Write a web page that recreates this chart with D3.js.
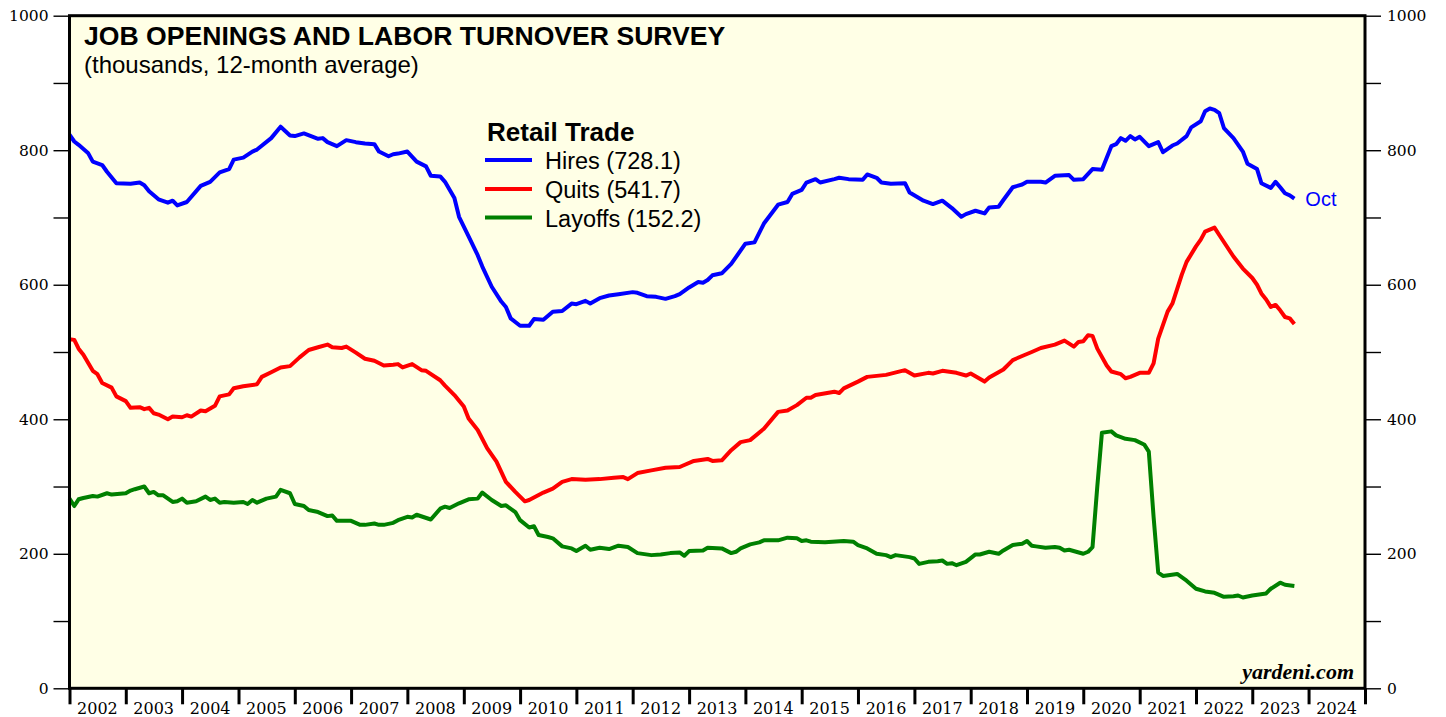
<!DOCTYPE html>
<html><head><meta charset="utf-8">
<script src="https://cdn.jsdelivr.net/npm/d3@7"></script>
<style>
html,body{margin:0;padding:0;background:#fff;}
svg{display:block;}
</style></head>
<body>
<svg id="chart" width="1446" height="717"></svg>
<script>
const title = "JOB OPENINGS AND LABOR TURNOVER SURVEY";
const subtitle = "(thousands, 12-month average)";
const legendTitle = "Retail Trade";
const seriesNames = ["Hires (728.1)", "Quits (541.7)", "Layoffs (152.2)"];
const seriesColors = ["#0000ff", "#ff0000", "#008000"];
const years = d3.range(2002, 2025);
const yTicks = d3.range(0, 1001, 100);
const yLabels = d3.range(0, 1001, 200);

const hires = [
["2002-01",823],["2002-02",813],["2002-03",808],["2002-05",796],["2002-06",783],["2002-08",778],["2002-09",768],["2002-11",751],
["2003-02",750],["2003-04",752],["2003-05",748],["2003-06",739],["2003-08",727],["2003-10",722],["2003-11",725],["2003-12",718],
["2004-02",723],["2004-05",747],["2004-07",753],["2004-09",767],["2004-11",772],["2004-12",786],
["2005-02",789],["2005-04",798],["2005-05",801],["2005-08",818],["2005-10",835],["2005-12",822],
["2006-01",821],["2006-03",825],["2006-06",817],["2006-07",818],["2006-08",812],["2006-10",806],["2006-12",815],
["2007-02",812],["2007-04",810],["2007-06",809],["2007-07",798],["2007-09",791],["2007-10",794],["2007-11",795],
["2008-01",798],["2008-03",783],["2008-05",776],["2008-06",762],["2008-08",761],["2008-09",753],["2008-11",729],["2008-12",701],
["2009-02",672],["2009-04",644],["2009-05",627],["2009-07",597],["2009-09",575],["2009-10",567],["2009-11",550],
["2010-01",539],["2010-03",539],["2010-04",549],["2010-06",548],["2010-08",560],["2010-10",561],["2010-12",572],
["2011-01",571],["2011-03",576],["2011-04",572],["2011-06",580],["2011-08",584],["2011-10",586],
["2012-01",589],["2012-02",588],["2012-04",583],["2012-06",582],["2012-08",579],["2012-10",583],["2012-11",586],
["2013-01",596],["2013-03",604],["2013-04",603],["2013-05",607],["2013-06",614],["2013-08",617],["2013-10",631],
["2014-01",661],["2014-03",663],["2014-05",691],["2014-08",719],["2014-10",723],["2014-11",735],
["2015-01",741],["2015-02",752],["2015-04",757],["2015-05",752],["2015-08",757],["2015-09",759],["2015-11",757],
["2016-02",756],["2016-03",764],["2016-05",759],["2016-06",752],["2016-08",750],["2016-11",751],["2016-12",737],
["2017-03",725],["2017-05",720],["2017-07",725],["2017-09",714],["2017-11",701],["2017-12",705],
["2018-02",710],["2018-04",706],["2018-05",715],["2018-07",716],["2018-08",726],["2018-10",745],["2018-12",749],
["2019-01",753],["2019-04",753],["2019-05",752],["2019-07",762],["2019-10",763],["2019-11",756],
["2020-01",757],["2020-03",772],["2020-05",771],["2020-07",806],["2020-08",809],["2020-09",818],["2020-10",814],["2020-11",821],["2020-12",816],
["2021-01",820],["2021-03",806],["2021-05",812],["2021-06",797],["2021-08",807],["2021-09",810],["2021-11",821],["2021-12",834],
["2022-02",843],["2022-03",858],["2022-04",862],["2022-05",860],["2022-06",855],["2022-07",833],["2022-09",818],["2022-11",798],["2022-12",780],
["2023-02",772],["2023-03",751],["2023-05",744],["2023-06",753],["2023-07",745],["2023-08",736],["2023-09",733],["2023-10",728.1]
];

const quits = [
["2002-01",519],["2002-02",518],["2002-03",505],["2002-04",496],["2002-06",472],["2002-07",467],["2002-08",454],["2002-10",447],["2002-11",434],
["2003-01",427],["2003-02",417],["2003-04",418],["2003-05",415],["2003-06",417],["2003-07",409],["2003-08",407],["2003-10",400],["2003-11",404],
["2004-01",403],["2004-02",406],["2004-03",404],["2004-05",413],["2004-06",412],["2004-08",420],["2004-09",434],["2004-11",437],["2004-12",446],
["2005-02",449],["2005-05",452],["2005-06",463],["2005-08",470],["2005-10",477],["2005-12",479],
["2006-02",492],["2006-04",503],["2006-06",507],["2006-08",511],["2006-09",507],["2006-11",506],["2006-12",508],
["2007-02",499],["2007-04",490],["2007-06",487],["2007-08",480],["2007-10",481],["2007-11",482],["2007-12",477],
["2008-02",482],["2008-04",473],["2008-05",472],["2008-08",458],["2008-09",450],["2008-11",436],
["2009-01",419],["2009-02",401],["2009-04",384],["2009-06",357],["2009-08",337],["2009-10",307],["2009-12",292],
["2010-02",278],["2010-03",280],["2010-06",291],["2010-08",297],["2010-10",307],["2010-12",311],
["2011-03",310],["2011-06",311],["2011-09",313],["2011-11",314],["2011-12",311],
["2012-02",320],["2012-05",324],["2012-08",328],["2012-11",329],["2012-12",332],
["2013-02",338],["2013-05",341],["2013-06",338],["2013-08",339],["2013-10",354],["2013-12",366],
["2014-02",369],["2014-05",386],["2014-08",411],["2014-10",413],["2014-12",421],
["2015-02",432],["2015-03",432],["2015-04",436],["2015-08",441],["2015-09",439],["2015-10",446],
["2016-01",456],["2016-03",463],["2016-07",466],["2016-11",473],
["2017-01",465],["2017-04",469],["2017-05",468],["2017-07",472],["2017-10",469],["2017-12",465],
["2018-01",468],["2018-04",456],["2018-05",462],["2018-08",474],["2018-10",488],["2018-12",494],
["2019-02",500],["2019-04",506],["2019-07",511],["2019-09",517],["2019-11",508],["2019-12",515],
["2020-01",516],["2020-02",525],["2020-03",524],["2020-04",505],["2020-06",480],["2020-07",471],["2020-09",467],["2020-10",461],["2020-11",463],
["2021-01",469],["2021-03",469],["2021-04",483],["2021-05",520],["2021-07",560],["2021-08",572],["2021-10",615],["2021-11",634],
["2022-01",657],["2022-02",667],["2022-03",679],["2022-05",685],["2022-06",674],["2022-09",642],["2022-11",624],
["2023-01",610],["2023-02",600],["2023-03",587],["2023-04",578],["2023-05",567],["2023-06",570],["2023-07",562],["2023-08",552],["2023-09",550],["2023-10",541.7]
];

const layoffs = [
["2002-01",282],["2002-02",271],["2002-03",281],["2002-04",283],["2002-06",286],["2002-07",285],["2002-09",290],["2002-10",288],
["2003-01",290],["2003-02",294],["2003-03",296],["2003-05",300],["2003-06",290],["2003-07",292],["2003-08",287],["2003-09",287],["2003-11",277],["2003-12",278],
["2004-01",282],["2004-02",276],["2004-04",278],["2004-06",285],["2004-07",280],["2004-08",282],["2004-09",276],["2004-10",277],["2004-12",276],
["2005-02",277],["2005-03",274],["2005-04",280],["2005-05",276],["2005-07",282],["2005-09",285],["2005-10",295],["2005-12",290],
["2006-01",274],["2006-03",271],["2006-04",265],["2006-06",262],["2006-08",256],["2006-09",257],["2006-10",249],
["2007-01",249],["2007-03",243],["2007-04",243],["2007-06",245],["2007-07",243],["2007-08",243],["2007-10",246],["2007-11",250],
["2008-01",255],["2008-02",254],["2008-03",258],["2008-06",251],["2008-08",267],["2008-09",270],["2008-10",268],["2008-12",275],
["2009-02",281],["2009-04",282],["2009-05",291],["2009-07",280],["2009-09",271],["2009-10",272],["2009-12",262],
["2010-01",250],["2010-03",239],["2010-04",241],["2010-05",228],["2010-07",225],["2010-08",223],["2010-10",211],["2010-12",208],
["2011-01",204],["2011-03",212],["2011-04",206],["2011-06",209],["2011-08",207],["2011-10",212],["2011-12",210],
["2012-02",201],["2012-05",198],["2012-07",199],["2012-09",201],["2012-11",202],["2012-12",197],
["2013-01",204],["2013-04",205],["2013-05",209],["2013-08",208],["2013-10",201],["2013-11",203],["2013-12",208],
["2014-02",214],["2014-04",217],["2014-05",220],["2014-08",220],["2014-10",224],["2014-12",223],
["2015-01",219],["2015-02",220],["2015-03",218],["2015-06",217],["2015-10",219],["2015-12",218],
["2016-01",213],["2016-03",208],["2016-05",200],["2016-07",198],["2016-08",195],["2016-09",198],["2016-12",195],
["2017-01",193],["2017-02",185],["2017-04",188],["2017-06",189],["2017-07",190],["2017-08",185],["2017-09",186],["2017-10",183],["2017-12",188],
["2018-02",199],["2018-03",199],["2018-05",203],["2018-07",200],["2018-08",205],["2018-10",213],["2018-12",215],
["2019-01",219],["2019-02",212],["2019-03",211],["2019-05",209],["2019-07",210],["2019-08",209],["2019-09",205],["2019-10",206],
["2020-01",200],["2020-02",203],["2020-03",210],["2020-04",300],["2020-05",380],["2020-07",382],["2020-08",376],["2020-10",371],["2020-12",369],
["2021-02",362],["2021-03",352],["2021-04",255],["2021-05",172],["2021-06",167],["2021-09",170],["2021-11",160],
["2022-01",148],["2022-03",144],["2022-05",142],["2022-07",136],["2022-09",137],["2022-10",138],["2022-11",135],
["2023-01",138],["2023-04",141],["2023-05",148],["2023-07",157],["2023-08",154],["2023-10",152.2]
];

const parse = d3.timeParse("%Y-%m");
const allSeries = [hires, quits, layoffs].map(s => s.map(([d, v]) => ({date: parse(d), value: v})));

const svg = d3.select("#chart");
const L = 69.5, R = 1365, T = 15.7, B = 688.3;
const x = d3.scaleTime().domain([new Date(2002, 0, 1), new Date(2025, 0, 1)]).range([L, R]);
const y = d3.scaleLinear().domain([0, 1000]).range([B, T]);

svg.append("rect").attr("x", L).attr("y", T).attr("width", R - L).attr("height", B - T).attr("fill", "#ffffe6");

const serif = "'DejaVu Serif', serif";
const sans = "'Liberation Sans', Arial, Helvetica, sans-serif";

const yAxisL = d3.axisLeft(y).tickValues(yTicks).tickSize(16).tickFormat(d => yLabels.includes(d) ? d : "").tickPadding(5);
const yAxisR = d3.axisRight(y).tickValues(yTicks).tickSize(16).tickFormat(d => yLabels.includes(d) ? d : "").tickPadding(6);
const gL = svg.append("g").attr("transform", `translate(${L},0)`).call(yAxisL);
const gR = svg.append("g").attr("transform", `translate(${R},0)`).call(yAxisR);
[gL, gR].forEach(g => {
  g.select(".domain").remove();
  g.selectAll(".tick line").attr("stroke", "#000").attr("stroke-width", 1.4);
  g.selectAll(".tick text").attr("font-family", serif).attr("font-size", 15.5).attr("fill", "#000");
});

const xAxis = d3.axisBottom(x).tickValues(d3.range(2002, 2026).map(yv => new Date(yv, 0, 1))).tickSize(16).tickFormat("");
const gX = svg.append("g").attr("transform", `translate(0,${B})`).call(xAxis);
gX.select(".domain").remove();
gX.selectAll(".tick line").attr("stroke", "#000").attr("stroke-width", 3);

svg.append("g").selectAll("text").data(years).join("text")
  .attr("x", d => x(new Date(d, 6, 1)))
  .attr("y", 714)
  .attr("text-anchor", "middle")
  .attr("font-family", serif).attr("font-size", 16).attr("fill", "#000")
  .text(d => d);

const line = d3.line().x(d => x(d.date)).y(d => y(d.value));
const gLines = svg.append("g");
allSeries.forEach((s, i) => {
  gLines.append("path").datum(s).attr("d", line)
    .attr("fill", "none").attr("stroke", seriesColors[i]).attr("stroke-width", 4)
    .attr("stroke-linejoin", "round").attr("stroke-linecap", "butt");
});

svg.append("rect").attr("x", L).attr("y", T).attr("width", R - L).attr("height", B - T)
  .attr("fill", "none").attr("stroke", "#000").attr("stroke-width", 3);

svg.append("text").attr("x", 84).attr("y", 45).attr("font-family", sans).attr("font-weight", "bold")
  .attr("font-size", 26.6).attr("fill", "#000").text(title);
svg.append("text").attr("x", 84).attr("y", 73).attr("font-family", sans)
  .attr("font-size", 24).attr("fill", "#000").text(subtitle);

svg.append("text").attr("x", 487).attr("y", 141).attr("font-family", sans).attr("font-weight", "bold")
  .attr("font-size", 26).attr("fill", "#000").text(legendTitle);
const legY = [160, 189, 217.5];
seriesNames.forEach((n, i) => {
  svg.append("line").attr("x1", 485).attr("x2", 532).attr("y1", legY[i]).attr("y2", legY[i])
    .attr("stroke", seriesColors[i]).attr("stroke-width", 4);
  svg.append("text").attr("x", 545).attr("y", legY[i] + 9).attr("font-family", sans)
    .attr("font-size", 23.5).attr("fill", "#000").text(n);
});

const lastH = allSeries[0][allSeries[0].length - 1];
svg.append("text").attr("x", x(lastH.date) + 11).attr("y", y(lastH.value) + 7)
  .attr("font-family", sans).attr("font-size", 20).attr("fill", "#0000ff").text("Oct");

svg.append("text").attr("x", 1354).attr("y", 679).attr("text-anchor", "end")
  .attr("font-family", "'Liberation Serif', 'Times New Roman', serif").attr("font-weight", "bold").attr("font-style", "italic")
  .attr("font-size", 22).attr("fill", "#000").text("yardeni.com");
</script>
</body></html>
